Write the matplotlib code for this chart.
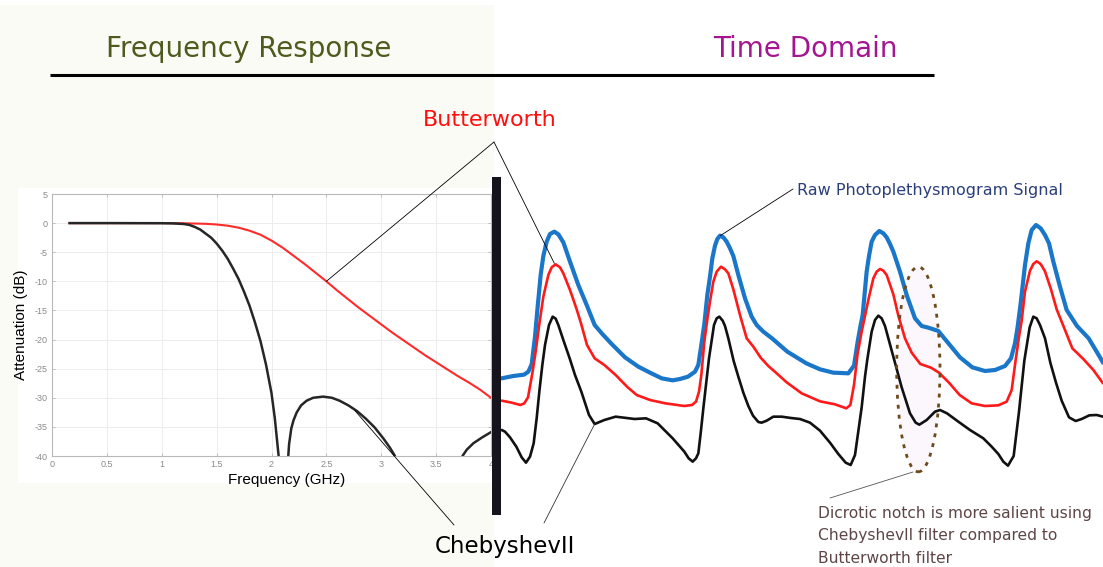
import matplotlib
matplotlib.use('Agg')
import matplotlib.pyplot as plt
from matplotlib.patches import Rectangle, Ellipse, ConnectionPatch

W, H = 1103, 567

# frequency response (GHz, dB)
freq_bw = [0.16, 0.5, 1.0, 1.2, 1.4, 1.5, 1.6, 1.7, 1.8, 1.9, 2.0, 2.1, 2.2, 2.3, 2.4, 2.5,
           2.6, 2.7, 2.8, 2.9, 3.0, 3.1, 3.2, 3.3, 3.4, 3.5, 3.6, 3.7, 3.8, 3.9, 4.0]
att_bw = [0, 0, 0, -0.03, -0.12, -0.24, -0.44, -0.78, -1.3, -2.0, -3.0, -4.2, -5.6, -7.0, -8.5, -10.0,
          -11.6, -13.1, -14.6, -16.0, -17.4, -18.8, -20.1, -21.4, -22.7, -23.9, -25.1, -26.3, -27.4, -28.6, -30.0]
freq_cheb = [0.16, 0.5, 1.0, 1.1, 1.2, 1.25, 1.3, 1.35, 1.4, 1.45, 1.5, 1.55, 1.6, 1.65, 1.7, 1.75,
             1.8, 1.85, 1.9, 1.95, 2.0, 2.03, 2.065, 2.08,
             2.14, 2.153, 2.16, 2.18, 2.2, 2.23, 2.27, 2.32, 2.38, 2.47, 2.55, 2.62, 2.7, 2.78, 2.86,
             2.94, 3.02, 3.08, 3.125, 3.14,
             3.72, 3.74, 3.78, 3.84, 3.92, 4.0]
att_cheb = [0, 0, -0.02, -0.05, -0.15, -0.3, -0.65, -1.1, -1.8, -2.5, -3.5, -4.7, -6.1, -7.8, -9.6, -11.8,
            -14.2, -17.1, -20.3, -24.3, -29.2, -33.5, -40, -45,
            -45, -40, -38.0, -35.3, -33.9, -32.5, -31.3, -30.5, -30.0, -29.8, -30.0, -30.5, -31.3, -32.3, -33.6,
            -35.1, -37.0, -38.6, -40, -45,
            -45, -40, -38.9, -37.8, -36.8, -35.9]
freq_ticks = [0, 0.5, 1, 1.5, 2, 2.5, 3, 3.5, 4]
freq_tick_labels = ['0', '0.5', '1', '1.5', '2', '2.5', '3', '3.5', '4']
att_ticks = [-40, -35, -30, -25, -20, -15, -10, -5, 0, 5]

# time domain traces, (sample index, amplitude a.u.)
raw_pts = [(20, 305), (55, 312), (87, 316), (100, 325), (110, 347), (120, 430), (128, 520), (137, 615),
           (145, 672), (155, 715), (165, 738), (178, 745), (190, 737), (205, 713), (225, 655), (250, 585),
           (275, 525), (299, 465), (322, 438), (350, 408), (390, 368), (430, 340), (465, 322), (500, 305),
           (533, 299), (555, 303), (579, 310), (600, 325), (610, 345), (619, 405), (628, 468), (637, 555),
           (645, 610), (652, 665), (660, 703), (667, 723), (675, 733), (685, 728), (695, 715), (705, 695),
           (715, 672), (730, 615), (750, 545), (770, 490), (785, 465), (805, 445), (831, 425), (877, 385),
           (934, 350), (975, 332), (1015, 322), (1060, 320), (1077, 343), (1088, 415), (1096, 460),
           (1103, 495), (1115, 625), (1122, 672), (1130, 715), (1140, 735), (1153, 747), (1165, 740),
           (1175, 728), (1185, 708), (1195, 685), (1215, 625), (1235, 555), (1260, 485), (1280, 462),
           (1300, 457), (1330, 447), (1362, 408), (1395, 368), (1432, 338), (1470, 327), (1500, 330),
           (1530, 342), (1548, 365), (1560, 410), (1568, 460), (1577, 530), (1590, 645), (1600, 710),
           (1610, 750), (1623, 765), (1637, 755), (1650, 735), (1662, 710), (1675, 655), (1695, 580),
           (1715, 510), (1746, 462), (1781, 425), (1815, 368), (1824, 352)]
bw_pts = [(20, 238), (50, 232), (76, 225), (88, 230), (99, 248), (112, 320), (122, 385), (133, 468),
          (145, 550), (160, 615), (170, 638), (182, 647), (195, 638), (205, 620), (225, 570), (245, 512),
          (258, 470), (276, 405), (299, 365), (328, 345), (362, 315), (396, 280), (425, 255), (465, 240),
          (511, 230), (568, 222), (591, 225), (603, 235), (612, 265), (619, 315), (628, 415), (637, 482),
          (645, 535), (655, 595), (665, 625), (678, 640), (690, 632), (700, 620), (715, 572), (735, 495),
          (755, 425), (775, 400), (797, 367), (820, 342), (845, 320), (875, 293), (920, 260), (975, 236),
          (1020, 227), (1054, 215), (1066, 225), (1077, 285), (1088, 380), (1100, 445), (1110, 492),
          (1120, 540), (1135, 605), (1145, 625), (1155, 633), (1165, 628), (1175, 615), (1195, 557),
          (1210, 493), (1230, 425), (1250, 382), (1276, 348), (1308, 337), (1332, 322), (1362, 292),
          (1394, 255), (1430, 230), (1470, 222), (1510, 224), (1535, 235), (1550, 270), (1562, 360),
          (1572, 430), (1580, 478), (1590, 565), (1605, 628), (1615, 648), (1625, 656), (1637, 648),
          (1650, 626), (1668, 572), (1685, 512), (1708, 455), (1732, 395), (1765, 363), (1795, 330),
          (1824, 290)]
ch_pts = [(20, 150), (30, 145), (45, 128), (64, 100), (80, 68), (93, 52), (105, 70), (116, 110), (125, 185),
          (133, 265), (142, 345), (150, 405), (162, 465), (173, 490), (182, 484), (190, 465), (205, 420),
          (224, 365), (240, 315), (259, 265), (282, 195), (299, 168), (328, 180), (362, 190), (419, 183),
          (453, 185), (488, 170), (510, 148), (533, 125), (568, 85), (581, 65), (593, 55), (603, 65),
          (610, 80), (617, 140), (625, 215), (642, 365), (657, 465), (665, 485), (673, 490), (683, 478),
          (690, 462), (700, 425), (716, 357), (730, 310), (745, 262), (760, 222), (774, 193), (790, 174),
          (800, 172), (815, 178), (835, 190), (860, 190), (888, 186), (915, 183), (945, 172), (975, 148),
          (1005, 112), (1030, 78), (1052, 52), (1067, 45), (1080, 75), (1100, 218), (1110, 310),
          (1117, 362), (1130, 445), (1140, 480), (1150, 493), (1160, 485), (1170, 462), (1195, 370),
          (1220, 278), (1245, 200), (1262, 172), (1273, 166), (1295, 180), (1320, 205), (1335, 210),
          (1356, 200), (1390, 175), (1425, 150), (1465, 125), (1490, 100), (1510, 78), (1525, 55),
          (1539, 43), (1556, 72), (1572, 205), (1588, 358), (1604, 458), (1615, 490), (1625, 485),
          (1635, 465), (1650, 425), (1666, 352), (1683, 292), (1700, 238), (1722, 188), (1742, 177),
          (1760, 183), (1783, 194), (1805, 195), (1824, 190)]

# dicrotic notch highlight (centre n, centre a, width, height)
notch = (1270, 332, 130, 615)

plt.rcParams['axes.unicode_minus'] = False


def frac(x0, y0, x1, y1):
    # pixel box -> figure fraction [left, bottom, width, height]
    return [x0 / W, 1 - y1 / H, (x1 - x0) / W, (y1 - y0) / H]


fig = plt.figure(figsize=(W / 100, H / 100), dpi=100)

# background layer in pixel coordinates
bg = fig.add_axes([0, 0, 1, 1], zorder=-1)
bg.set_xlim(0, W)
bg.set_ylim(H, 0)
bg.axis('off')
bg.add_patch(Rectangle((0, 5), 494, H - 5, color='#fbfbf5', lw=0))
bg.add_patch(Rectangle((18, 188), 474, 295, color='white', lw=0))

# frequency response axes
ax_f = fig.add_axes(frac(52, 194, 491, 456), zorder=1)
ax_f.plot(freq_bw, att_bw, color='#ff2a2a', lw=1.5)
ax_f.plot(freq_cheb, att_cheb, color='#262626', lw=1.8)
ax_f.set_xlim(0, 4)
ax_f.set_ylim(-40, 5)
ax_f.set_xticks(freq_ticks)
ax_f.set_xticklabels(freq_tick_labels)
ax_f.set_yticks(att_ticks)
ax_f.grid(True, color='#ededed', lw=0.7)
ax_f.tick_params(direction='in', length=2.5, width=0.6, pad=3, top=True, right=True,
                 labelsize=6.5, colors='#b5b5b5')
for lab in ax_f.get_xticklabels() + ax_f.get_yticklabels():
    lab.set_color('#8a8a8a')
    lab.set_family('Liberation Sans')
for sp in ax_f.spines.values():
    sp.set_color('#b8b8b8')
    sp.set_linewidth(0.8)
ax_f.set_xlabel('Frequency (GHz)', family='Liberation Sans', fontsize=11, va='center', ha='center')
ax_f.set_ylabel('Attenuation (dB)', family='Liberation Sans', fontsize=11, va='center', ha='center')
ax_f.xaxis.set_label_coords((287 - 52) / 439, (456 - 480) / 262)
ax_f.yaxis.set_label_coords((21 - 52) / 439, (456 - 324.5) / 262)

# time domain axes
ax_t = fig.add_axes(frac(495, 180, 1103, 480), zorder=2)
ax_t.set_xlim(0, 1824)
ax_t.set_ylim(0, 900)
ax_t.axis('off')
ax_t.patch.set_alpha(0)
ax_t.add_patch(Ellipse(notch[:2], notch[2], notch[3], facecolor='#fbf7fc', edgecolor='none', zorder=0))
for pts, col, lw, z in [(raw_pts, '#1a76c8', 3.0, 2), (bw_pts, '#ff1a1a', 1.9, 3), (ch_pts, '#111111', 1.9, 3)]:
    n, a = zip(*pts)
    ax_t.plot(n, a, color=col, lw=lw, solid_joinstyle='round', solid_capstyle='round', zorder=z)
ax_t.add_patch(Ellipse(notch[:2], notch[2], notch[3], facecolor='none', edgecolor='#6e4a1c',
                       lw=2.0, ls=(0, (1.4, 2.2)), zorder=5))

# overlay with texts and annotation lines
ov = fig.add_axes([0, 0, 1, 1], zorder=5)
ov.set_xlim(0, W)
ov.set_ylim(H, 0)
ov.axis('off')
ov.patch.set_alpha(0)
ov.add_patch(Rectangle((491.5, 177), 9, 338, color='#15131c', lw=0))
ov.plot([50, 934], [75, 75], color='black', lw=2.2, solid_capstyle='butt')

ov.text(249, 57, 'Frequency Response', color='#4e5a1e', fontsize=20, ha='center', va='baseline')
ov.text(805, 57, 'Time Domain', color='#a3168f', fontsize=20, ha='center', va='baseline')
ov.text(490, 126, 'Butterworth', color='#ff1010', fontsize=16, ha='center', va='baseline')
ov.text(505, 553, 'ChebyshevII', color='black', fontsize=16.5, ha='center', va='baseline')
ov.text(797, 195, 'Raw Photoplethysmogram Signal', color='#2a3f7a', fontsize=11.5, va='baseline')
notch_lines = ['Dicrotic notch is more salient using', 'ChebyshevII filter compared to',
               'Butterworth filter']
for i, line in enumerate(notch_lines):
    ov.text(818, 518 + i * 22.3, line, color='#5e4646', fontsize=11.2, va='baseline')


def connect(xy_px, xy_data, ax, color='black'):
    con = ConnectionPatch(xyA=xy_px, coordsA=ov.transData, xyB=xy_data, coordsB=ax.transData,
                          color=color, lw=0.6, zorder=6)
    fig.add_artist(con)


connect((494, 142), (2.5, -10), ax_f)
connect((494, 142), (178, 650), ax_t)
connect((454, 525), (2.76, -32.2), ax_f)
connect((544, 523), (299, 168), ax_t, '#333333')
connect((793, 189), (676, 733), ax_t)
connect((830, 498), (1254, 24), ax_t, '#555555')

fig.savefig('out.png', dpi=100)
